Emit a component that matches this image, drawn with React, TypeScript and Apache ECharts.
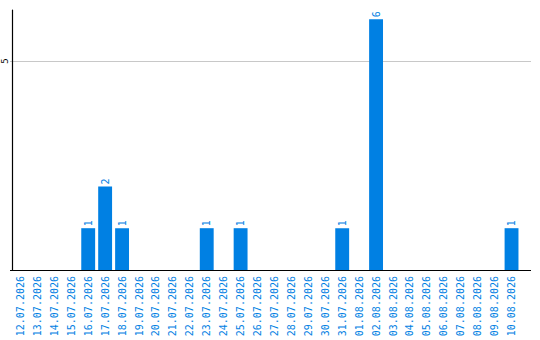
import React, { useEffect, useRef } from "react";
import * as echarts from "echarts";

const dates = [
  "12.07.2026", "13.07.2026", "14.07.2026", "15.07.2026", "16.07.2026",
  "17.07.2026", "18.07.2026", "19.07.2026", "20.07.2026", "21.07.2026",
  "22.07.2026", "23.07.2026", "24.07.2026", "25.07.2026", "26.07.2026",
  "27.07.2026", "28.07.2026", "29.07.2026", "30.07.2026", "31.07.2026",
  "01.08.2026", "02.08.2026", "03.08.2026", "04.08.2026", "05.08.2026",
  "06.08.2026", "07.08.2026", "08.08.2026", "09.08.2026", "10.08.2026",
];

const counts = [
  0, 0, 0, 0, 1,
  2, 1, 0, 0, 0,
  0, 1, 0, 1, 0,
  0, 0, 0, 0, 1,
  0, 6, 0, 0, 0,
  0, 0, 0, 0, 1,
];

const gridValue = 5;

const BLUE = "#0080e3";
const GRID_GRAY = "#c8c8c8";
const GRID_LEFT = 10;
// baseline and gridline run a little past the last category band
const LINE_END_X = 531;

export default function App() {
  const ref = useRef<HTMLDivElement>(null);

  useEffect(() => {
    if (!ref.current) return;
    const chart = echarts.init(ref.current, undefined, { renderer: "svg" });
    chart.setOption({
      animation: false,
      grid: { left: GRID_LEFT, right: 20, top: 10, bottom: 70, containLabel: false },
      xAxis: {
        type: "category",
        data: dates,
        axisLine: { show: false },
        axisTick: { show: false },
        axisLabel: {
          rotate: 90,
          interval: 0,
          color: BLUE,
          fontFamily: "DejaVu Sans Mono",
          fontSize: 10,
          margin: 6,
        },
      },
      yAxis: {
        type: "value",
        min: 0,
        max: 6.22,
        interval: 5,
        axisLine: { show: true, lineStyle: { color: "#000", width: 1.2 } },
        axisTick: { show: false },
        splitLine: { show: false },
        axisLabel: {
          rotate: 90,
          color: "#000",
          fontFamily: "DejaVu Sans Mono",
          fontSize: 9,
          margin: 3,
          formatter: (v: number) => (v === gridValue ? String(v) : ""),
        },
      },
      series: [
        {
          type: "bar",
          data: counts.map((v) => (v === 0 ? null : v)),
          barCategoryGap: "18%",
          itemStyle: { color: BLUE },
          z: 2,
          label: {
            show: true,
            position: "top",
            rotate: 90,
            align: "left",
            verticalAlign: "middle",
            distance: 2,
            color: BLUE,
            fontFamily: "DejaVu Sans Mono",
            fontSize: 10,
          },
        },
      ],
    });

    // gridline at 5 and the baseline, both spanning to the right edge
    const y0 = Math.round(chart.convertToPixel({ yAxisIndex: 0 }, 0) as number) + 0.5;
    const y5 = Math.round(chart.convertToPixel({ yAxisIndex: 0 }, gridValue) as number) + 0.5;
    chart.setOption({
      graphic: [
        {
          type: "line",
          z: -1,
          shape: { x1: GRID_LEFT, y1: y5, x2: LINE_END_X, y2: y5 },
          style: { stroke: GRID_GRAY, lineWidth: 1 },
        },
        {
          type: "line",
          z: 100,
          shape: { x1: GRID_LEFT, y1: y0, x2: LINE_END_X, y2: y0 },
          style: { stroke: "#000", lineWidth: 1.2 },
        },
      ],
    });
    return () => chart.dispose();
  }, []);

  return (
    <div
      ref={ref}
      style={{ position: "fixed", left: 0, top: 0, width: 540, height: 340, background: "#fff" }}
    />
  );
}
